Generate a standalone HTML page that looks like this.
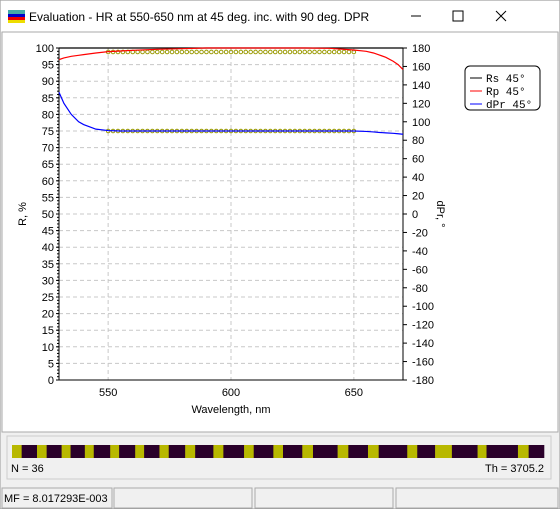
<!DOCTYPE html>
<html><head><meta charset="utf-8"><style>
body{margin:0;width:560px;height:509px;overflow:hidden;background:#fff;font-family:"Liberation Sans",sans-serif;}
svg{position:absolute;left:0;top:0}
</style></head><body>
<svg id="s" width="560" height="509" xmlns="http://www.w3.org/2000/svg" font-family="Liberation Sans, sans-serif">
<rect x="0" y="0" width="560" height="509" fill="#f0f0f0" stroke="#999"/>
<rect x="1" y="1" width="558" height="31" fill="#fff"/>
<g><rect x="8" y="10" width="17" height="4" fill="#4aa"/><rect x="8" y="14" width="17" height="3" fill="#00c"/><rect x="8" y="17" width="17" height="3" fill="#e00"/><rect x="8" y="20" width="17" height="3" fill="#ed0"/></g>
<text x="29" y="21" font-size="12" fill="#000">Evaluation - HR at 550-650 nm at 45 deg. inc. with 90 deg. DPR</text>
<line x1="411" y1="16" x2="421" y2="16" stroke="#000"/>
<rect x="453" y="11" width="10" height="10" fill="none" stroke="#000"/>
<path d="M496 11 L506 21 M506 11 L496 21" stroke="#000"/>
<rect x="2" y="32" width="556" height="400" fill="#fff" stroke="#aaa"/>
<g id="plot"></g>
<rect x="7" y="436" width="544" height="43" fill="#f0f0f0" stroke="#ccc"/>
<g id="layers"></g>
<text x="11" y="472" font-size="11">N = 36</text>
<text x="544" y="472" font-size="11" text-anchor="end">Th = 3705.2</text>
<g fill="none" stroke="#aaa">
<rect x="2" y="488" width="110" height="20"/><rect x="114" y="488" width="138" height="20"/><rect x="255" y="488" width="138" height="20"/><rect x="396" y="488" width="162" height="20"/></g>
<text x="4" y="502" font-size="11">MF =  8.017293E-003</text>
</svg>
<script>
const ticksL=[0,5,10,15,20,25,30,35,40,45,50,55,60,65,70,75,80,85,90,95,100];
const ticksR=[-180,-160,-140,-120,-100,-80,-60,-40,-20,0,20,40,60,80,100,120,140,160,180];
const ticksX=[550,600,650];
const wl=[530,532,535,538,540,545,550,555,560,570,580,590,600,610,620,630,640,650,655,658,660,663,666,668,670];
const rs=[100,100,100,100,100,100,100,100,100,100,100,100,100,100,100,100,100,100,100,100,100,100,100,100,100];
const rp=[96.5,97,97.5,97.8,98,98.5,98.9,99.1,99.3,99.6,99.8,100,100,100,100,100,99.9,99.4,99,98.5,98,97.2,96,95,93.5];
const dpr=[132,120,108,100,97,92,90.5,90,90,90,90,90,90,90,90,90,90,90,89.5,89,88.5,88,87.5,87,86.5];
const tgtWl=[];for(let w=550;w<=650;w+=2)tgtWl.push(w);
const tgtRp=98.8, tgtDpr=90;
const layers=[27,43,27,42,25,40,25,46,25,45,25,43,26,46,28,51,28,58,27,55,27,54,30,69,30,55,30,80,28,50,47,72,25,88,30,43];
const NS="http://www.w3.org/2000/svg";
const X0=59,X1=403,Y0=380,Y1=48;
const x=w=>X0+(w-530)/(670-530)*(X1-X0);
const yl=v=>Y0-v/100*(Y0-Y1);
const yr=d=>Y0-(d+180)/360*(Y0-Y1);
const g=document.getElementById('plot');
function el(t,a,p){const e=document.createElementNS(NS,t);for(const k in a)e.setAttribute(k,a[k]);(p||g).appendChild(e);return e;}
ticksL.forEach(v=>{if(v>0&&v<100){const l=el('line',{x1:X0,x2:X1,y1:yl(v),y2:yl(v),stroke:'#c8c8c8','stroke-dasharray':'4,3'});}
 const t=el('text',{x:X0-5,y:yl(v)+4,'font-size':11,'text-anchor':'end'});t.textContent=v;
 el('line',{x1:X0-3,x2:X0,y1:yl(v),y2:yl(v),stroke:'#000'});});
ticksR.forEach(v=>{const t=el('text',{x:X1+9,y:yr(v)+4,'font-size':11});t.textContent=v;
 el('line',{x1:X1,x2:X1+4,y1:yr(v),y2:yr(v),stroke:'#000'});});
for(let v=0;v<=100;v+=1)el('line',{x1:X0-2,x2:X0,y1:yl(v),y2:yl(v),stroke:'#000'});
ticksX.forEach(w=>{const l=el('line',{x1:x(w),x2:x(w),y1:Y1,y2:Y0,stroke:'#c8c8c8','stroke-dasharray':'4,3'});
 const t=el('text',{x:x(w),y:Y0+16,'font-size':11,'text-anchor':'middle'});t.textContent=w;});
const ax=el('path',{d:`M${X0} ${Y1}V${Y0}H${X1}V${Y1}`,fill:'none',stroke:'#000'});
function line(ys,f,c,n){const p=el('polyline',{points:wl.map((w,i)=>x(w)+','+f(ys[i])).join(' '),fill:'none',stroke:c,'stroke-width':1.2});}
tgtWl.forEach(w=>{const c=el('circle',{cx:x(w),cy:yl(tgtRp),r:1.8,fill:'none',stroke:'#990'});
 const d=el('circle',{cx:x(w),cy:yr(tgtDpr),r:1.8,fill:'none',stroke:'#990'});});
line(rs,yl,'#000','series-rs');line(rp,yl,'#f00','series-rp');line(dpr,yr,'#00f','series-dpr');
const yt=el('text',{x:0,y:0,'font-size':11,transform:`translate(26,214) rotate(-90)`,'text-anchor':'middle'});yt.textContent='R, %';
const yt2=el('text',{x:0,y:0,'font-size':11,transform:`translate(437,214) rotate(90)`,'text-anchor':'middle'});yt2.textContent='dPr, °';
const xt=el('text',{x:231,y:413,'font-size':11,'text-anchor':'middle'});xt.textContent='Wavelength, nm';
const lg=el('rect',{x:465,y:66,width:75,height:44,rx:5,fill:'#fff',stroke:'#000'});
[['Rs 45°','#000'],['Rp 45°','#f00'],['dPr 45°','#00f']].forEach((e,i)=>{const yy=78+i*13;el('line',{x1:470,x2:482,y1:yy,y2:yy,stroke:e[1]});
 const t=el('text',{x:486,y:yy+4,'font-size':11,'font-family':'Liberation Mono, monospace'});t.textContent=e[0];});
const lgG=document.getElementById('layers');const tot=layers.reduce((a,b)=>a+b,0);let cx=12;const W=532;
layers.forEach((t,i)=>{const w=t/tot*W;const r=el('rect',{x:cx,y:445,width:w+0.3,height:13,fill:i%2?'#2a002a':'#b8b800'},lgG);cx+=w;});
</script>
</body></html>
